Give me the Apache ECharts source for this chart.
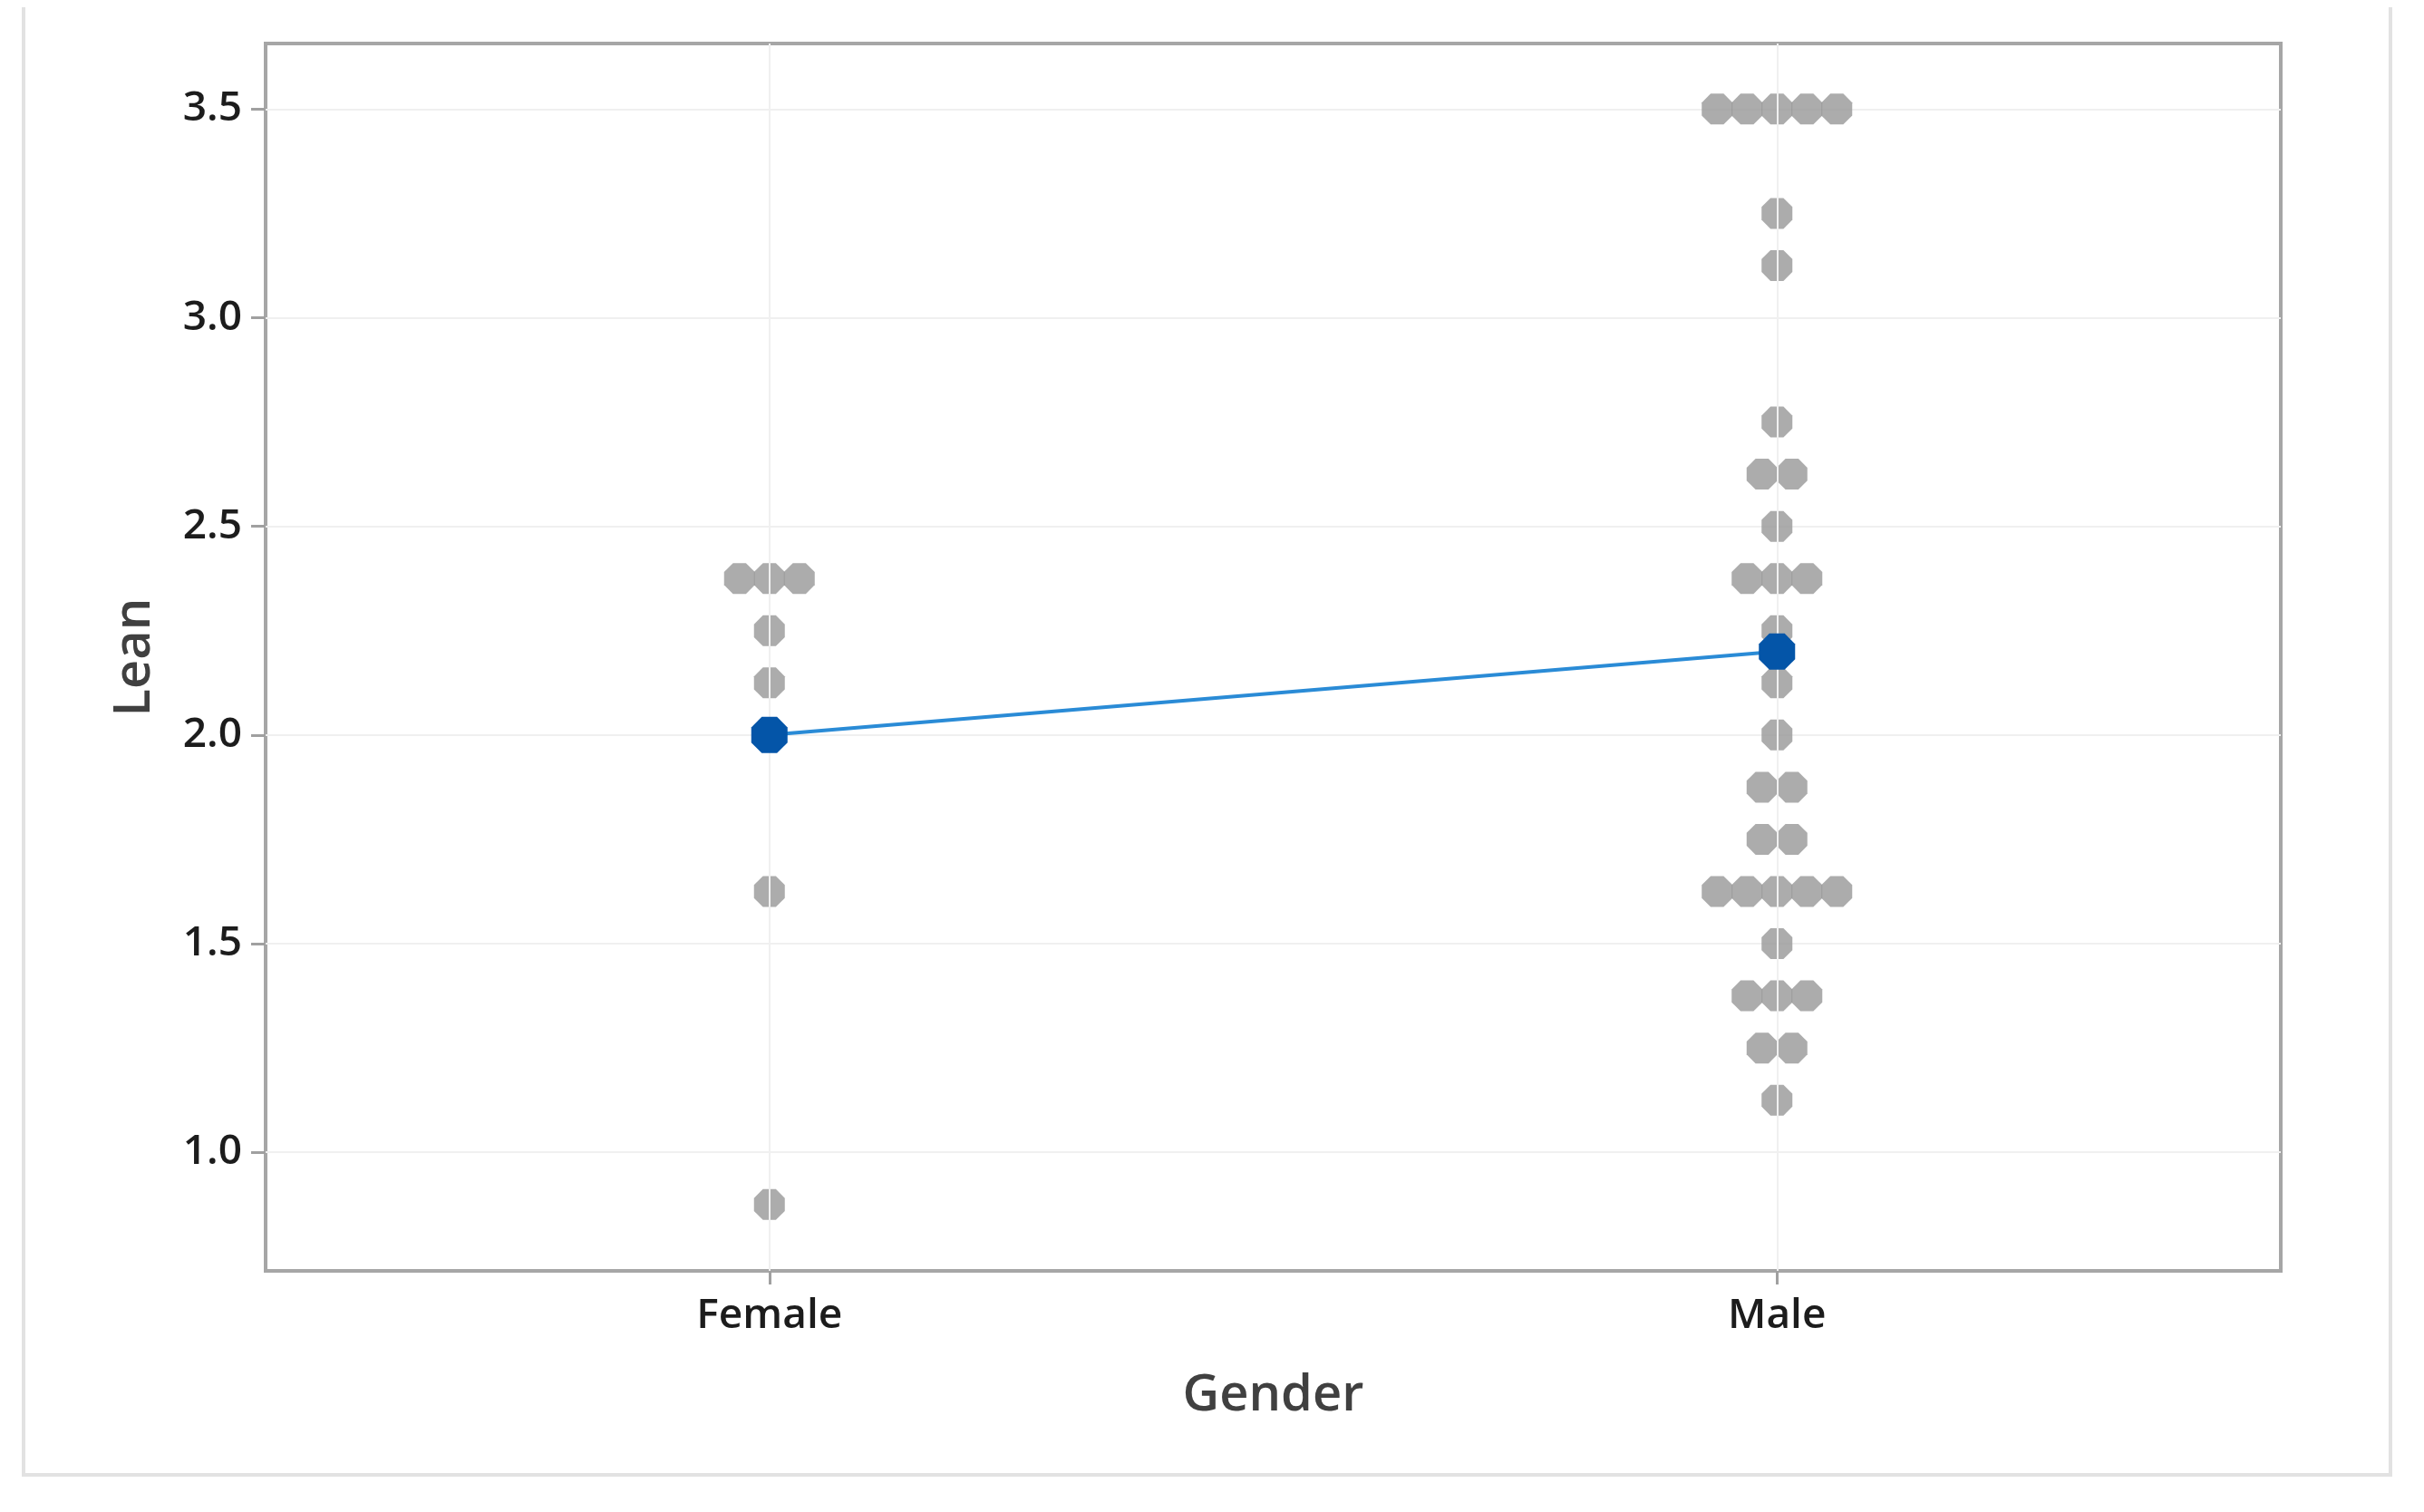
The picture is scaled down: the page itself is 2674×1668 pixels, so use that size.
<!DOCTYPE html>
<html>
<head>
<meta charset="utf-8">
<script src="https://cdn.jsdelivr.net/npm/echarts@6/dist/echarts.min.js"></script>
<style>
html,body{margin:0;padding:0;background:#fff;}
#chart{width:2674px;height:1668px;}
</style>
</head>
<body>
<div id="chart"></div>
<script>
// ---- data ----
const categories = ['Female', 'Male'];
const femaleLean = [2.375, 2.375, 2.375, 2.25, 2.125, 1.625, 0.875];
const maleLean = [3.5, 3.5, 3.5, 3.5, 3.5, 3.25, 3.125, 2.75, 2.625, 2.625, 2.5,
  2.375, 2.375, 2.375, 2.25, 2.125, 2.0, 1.875, 1.875, 1.75, 1.75,
  1.625, 1.625, 1.625, 1.625, 1.625, 1.5, 1.375, 1.375, 1.375, 1.25, 1.25, 1.125];
const meanLean = [2.0, 2.2];
const yTicks = [1.0, 1.5, 2.0, 2.5, 3.0, 3.5];

// ---- build dot-plot items (stacked horizontally for ties) ----
const DOT_STEP = 33;
function dotItems(cat, values) {
  const counts = {}, seen = {};
  values.forEach(v => { counts[v] = (counts[v] || 0) + 1; });
  return values.map(v => {
    const i = seen[v] || 0; seen[v] = i + 1;
    const off = (i - (counts[v] - 1) / 2) * DOT_STEP;
    return { value: [cat, v], symbolOffset: [off, 0] };
  });
}
const dots = dotItems(categories[0], femaleLean).concat(dotItems(categories[1], maleLean));

const octagon = 'path://M29,0 L71,0 L100,29 L100,71 L71,100 L29,100 L0,71 L0,29 Z';
const FONT = '"Open Sans", "Noto Sans", sans-serif';

const chart = echarts.init(document.getElementById('chart'));
chart.setOption({
  animation: false,
  backgroundColor: '#ffffff',
  graphic: [{
    type: 'polyline',
    shape: { points: [[26, 8], [26, 1627], [2637, 1627], [2637, 8]] },
    style: { stroke: '#e2e2e2', lineWidth: 4, fill: null },
    z: -1
  }],
  grid: {
    left: 293, top: 48, width: 2223, height: 1354,
    show: true, borderColor: '#a6a6a6', borderWidth: 4, backgroundColor: '#ffffff'
  },
  xAxis: {
    type: 'category',
    data: categories,
    boundaryGap: true,
    name: 'Gender',
    nameLocation: 'middle',
    nameGap: 110,
    nameTextStyle: { fontFamily: FONT, fontSize: 56, color: '#404040', fontWeight: 600 },
    axisLine: { show: false },
    axisTick: { show: true, alignWithLabel: true, length: 15, lineStyle: { color: '#a0a0a0', width: 3 } },
    axisLabel: { margin: 27, fontFamily: FONT, fontSize: 46, fontWeight: 600, color: '#1c1c1c' },
    splitLine: { show: false }
  },
  yAxis: {
    type: 'value',
    min: 0.716,
    max: 3.657,
    name: 'Lean',
    nameLocation: 'middle',
    nameGap: 116,
    nameRotate: 90,
    nameTextStyle: { fontFamily: FONT, fontSize: 56, color: '#404040', fontWeight: 600 },
    axisLine: { show: false },
    axisTick: { show: true, length: 16, customValues: yTicks, lineStyle: { color: '#a0a0a0', width: 3 } },
    axisLabel: {
      margin: 26, customValues: yTicks, fontFamily: FONT, fontSize: 46, fontWeight: 600, color: '#1c1c1c',
      formatter: v => Number(v).toFixed(1)
    },
    splitLine: { show: true, lineStyle: { color: '#f0f0f0', width: 2 } }
  },
  series: [
    {
      type: 'line',
      data: [],
      z: 1,
      silent: true,
      markLine: {
        silent: true,
        symbol: 'none',
        label: { show: false },
        lineStyle: { color: '#f0f0f0', width: 2, type: 'solid' },
        data: categories.map(c => ({ xAxis: c }))
      }
    },
    {
      type: 'scatter',
      data: dots,
      symbol: octagon,
      symbolSize: 34,
      itemStyle: { color: '#979797' },
      z: 3
    },
    {
      type: 'line',
      data: meanLean,
      symbol: octagon,
      symbolSize: 40,
      lineStyle: { color: '#2a8bd6', width: 4 },
      itemStyle: { color: '#0455a8' },
      z: 5
    }
  ]
});
</script>
</body>
</html>
